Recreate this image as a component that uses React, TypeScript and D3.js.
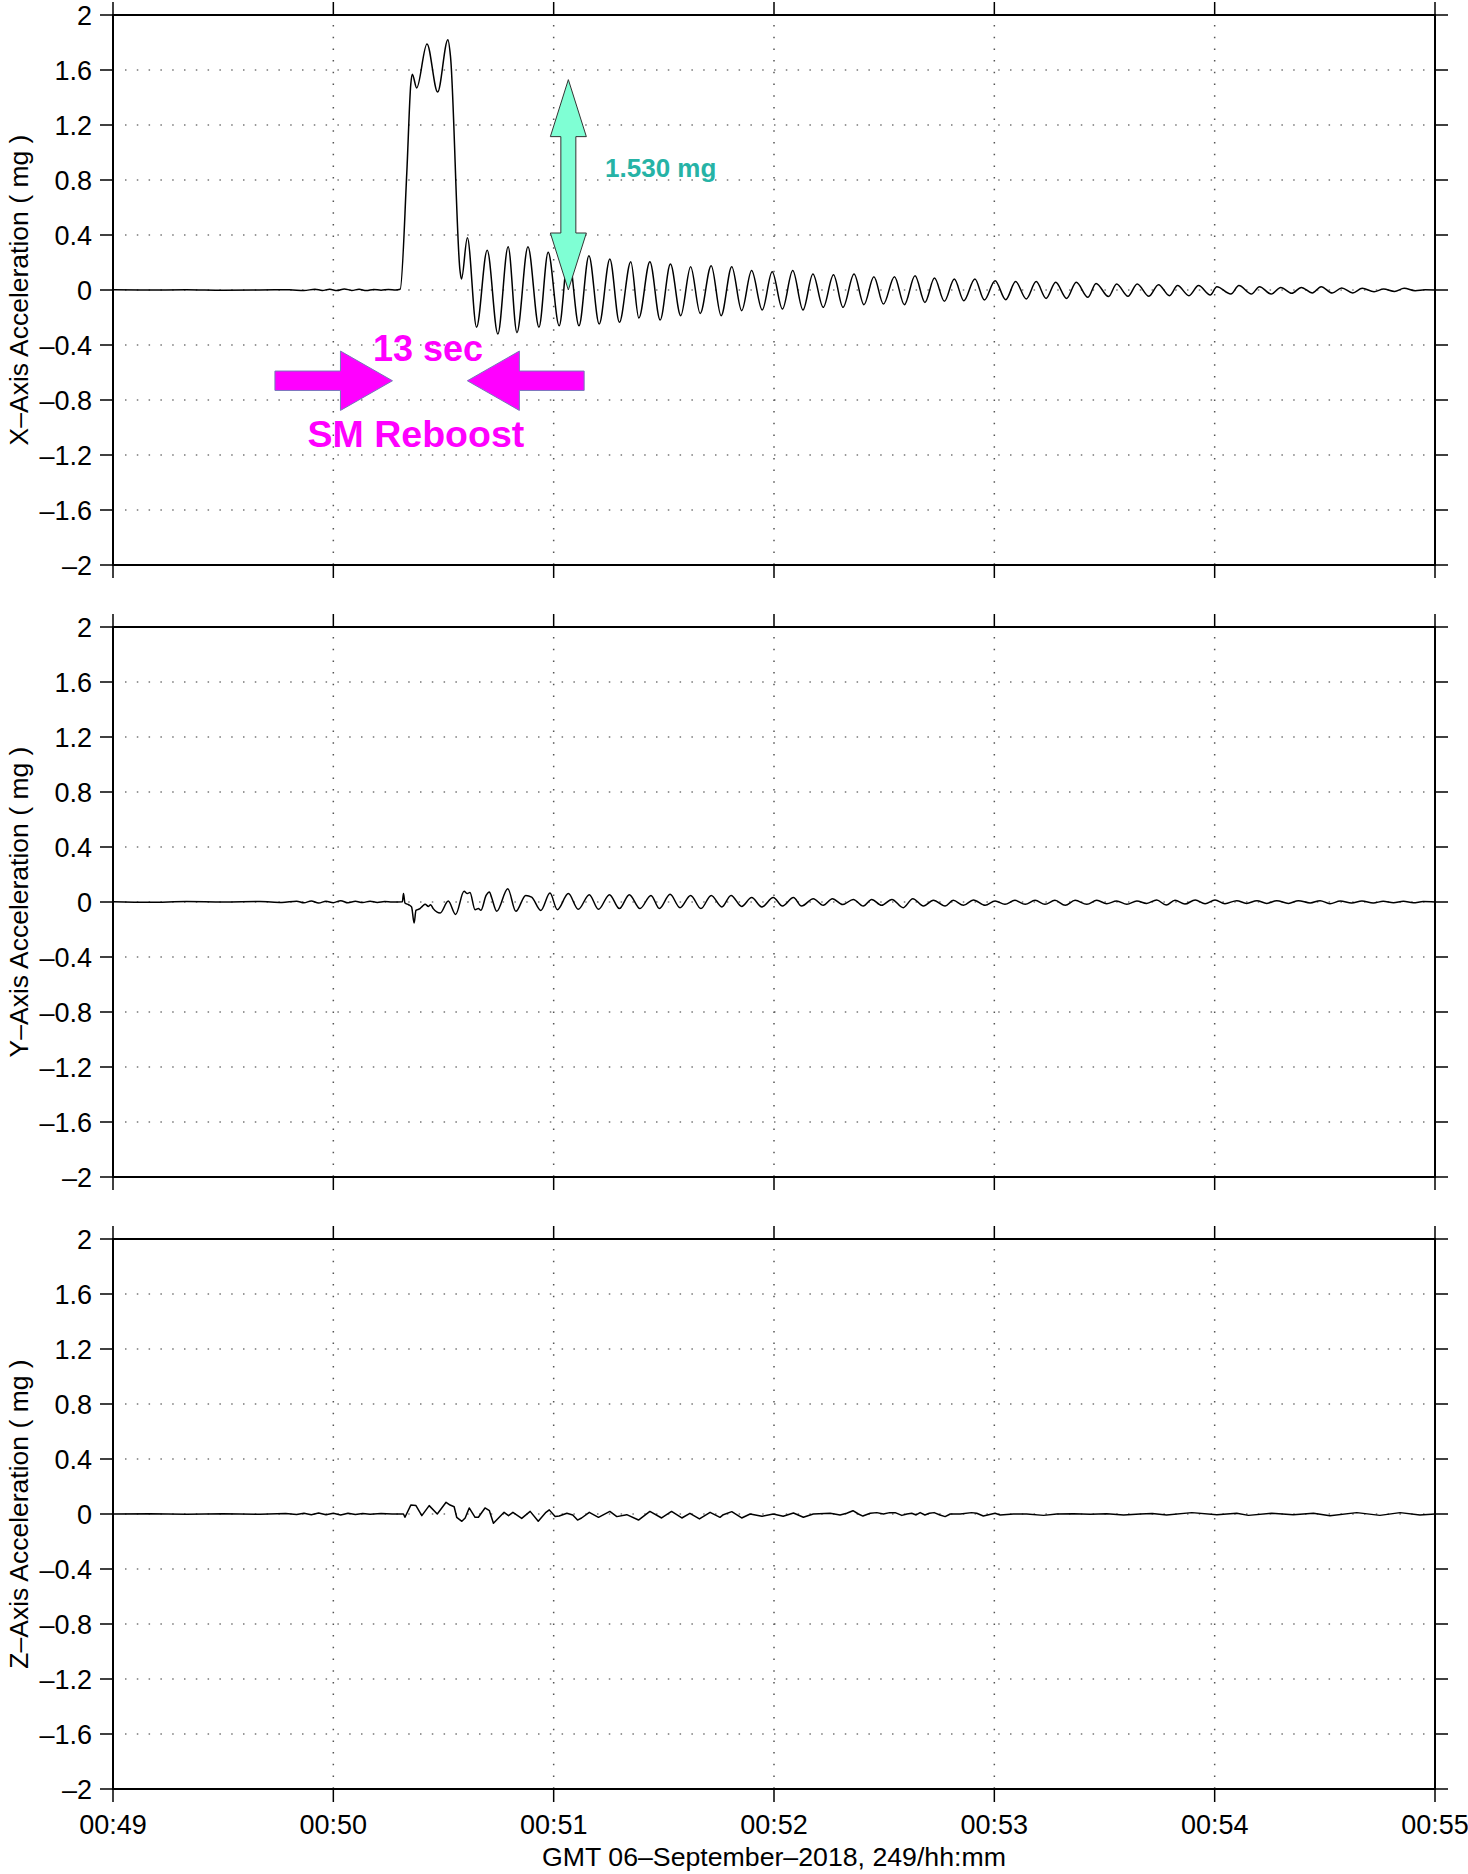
import React from "react";
import * as d3 from "d3";

// ---------- DATA (time in seconds after 00:49:00 GMT, acceleration in mg) ----------
const X_TICK_SECONDS = [0, 60, 120, 180, 240, 300, 360];
const X_TICK_LABELS = ["00:49", "00:50", "00:51", "00:52", "00:53", "00:54", "00:55"];
const Y_TICKS = [-2, -1.6, -1.2, -0.8, -0.4, 0, 0.4, 0.8, 1.2, 1.6, 2];
const AXIS_NAMES = ["X\u2013Axis Acceleration ( mg )", "Y\u2013Axis Acceleration ( mg )", "Z\u2013Axis Acceleration ( mg )"];
const X_TITLE = "GMT 06\u2013September\u20132018, 249/hh:mm";

const X_ACCEL: [number, number][] = [
  [0, 0.002], [10, 0.0], [20, 0.002], [30, -0.002], [40, 0.0], [48, 0.002], [52, -0.004], [55, 0.006],
  [57, -0.003], [59, 0.005], [61, -0.004], [63, 0.008], [65, -0.003], [67, 0.005], [69, -0.004], [71, 0.004],
  [73, -0.002], [75, 0.004], [77, 0.0], [78.2, 0.005], [80.0, 0.85], [81.1, 1.5], [81.5, 1.57], [82.7, 1.47],
  [85.5, 1.79], [88.4, 1.44], [91.2, 1.82], [91.9, 1.7], [94.5, 0.14], [94.9, 0.08], [96.5, 0.38], [99.0, -0.27],
  [101.9, 0.29], [104.8, -0.32], [107.6, 0.315], [110.0, -0.31], [113.0, 0.315], [116.0, -0.27], [118.5, 0.275],
  [121.5, -0.26], [124.0, 0.26], [126.9, -0.26], [129.6, 0.25], [132.4, -0.247], [135.3, 0.225], [137.9, -0.235],
  [141.0, 0.206], [143.2, -0.204], [146.2, 0.206], [149.0, -0.218], [151.8, 0.189], [154.6, -0.187], [157.3, 0.17],
  [159.9, -0.17], [162.9, 0.177], [165.6, -0.187], [168.5, 0.17], [171.2, -0.15], [173.9, 0.141], [176.8, -0.145],
  [179.5, 0.133], [182.3, -0.138], [185.1, 0.141], [187.9, -0.145], [190.6, 0.116], [193.4, -0.126], [196.2, 0.111],
  [198.8, -0.126], [201.8, 0.116], [204.5, -0.107], [207.2, 0.097], [209.8, -0.102], [212.8, 0.097], [215.5, -0.107],
  [218.4, 0.104], [221.1, -0.09], [223.7, 0.087], [226.4, -0.082], [229.1, 0.08], [231.7, -0.078], [234.7, 0.08],
  [237.3, -0.073], [240.2, 0.068], [243.1, -0.07], [245.8, 0.061], [248.7, -0.065], [251.4, 0.061], [254.1, -0.061],
  [256.7, 0.056], [259.7, -0.061], [262.3, 0.056], [265.5, -0.053], [267.7, 0.048], [271.1, -0.048], [273.3, 0.044],
  [276.4, -0.046], [278.9, 0.044], [282.1, -0.046], [284.7, 0.039], [287.7, -0.041], [289.9, 0.032], [293.0, -0.041],
  [295.6, 0.032], [298.8, -0.036], [300.6, 0.024], [304.4, -0.029], [306.6, 0.032], [310.0, -0.029], [312.2, 0.024],
  [315.4, -0.029], [318.0, 0.019], [321.0, -0.024], [323.6, 0.019], [326.6, -0.022], [329.0, 0.024], [332.0, -0.022],
  [334.6, 0.015], [337.6, -0.022], [340.2, 0.012], [343.4, -0.012], [346.0, 0.007], [349.0, -0.01], [351.6, 0.012],
  [354.6, -0.005], [357.3, 0.002], [360, 0.0],
];

const Y_ACCEL: [number, number][] = [
  [0, 0.002], [10, -0.002], [20, 0.003], [30, 0.0], [40, 0.003], [46, -0.004], [50, 0.006], [52, -0.006],
  [54, 0.008], [56, -0.008], [58, 0.006], [60, -0.005], [62, 0.01], [64, -0.006], [66, 0.005], [68, -0.004],
  [70, 0.006], [72, -0.003], [74, 0.003], [76, 0.0], [78.8, 0.002], [79.1, 0.061], [79.5, -0.007], [80.5, -0.02],
  [81.3, -0.036], [82.0, -0.153], [82.5, -0.061], [83.6, -0.048], [84.3, -0.03], [85.0, -0.017], [85.9, -0.032],
  [86.5, -0.02], [87.2, -0.048], [89.1, -0.08], [91.3, 0.007], [93.3, -0.09], [95.6, 0.078], [96.5, 0.061],
  [97.2, 0.07], [98.6, -0.056], [99.5, -0.048], [100.2, -0.06], [101.6, 0.048], [102.5, 0.073], [103.1, 0.032],
  [104.5, -0.068], [107.5, 0.097], [109.7, -0.068], [112.4, 0.048], [114.0, 0.036], [116.5, -0.061], [119.0, 0.065],
  [121.0, -0.056], [124.0, 0.061], [126.7, -0.053], [129.7, 0.053], [132.2, -0.053], [135.2, 0.053], [137.9, -0.048],
  [140.6, 0.053], [143.5, -0.048], [146.5, 0.048], [148.8, -0.048], [151.7, 0.056], [154.4, -0.041], [157.3, 0.048],
  [160.1, -0.048], [162.9, 0.048], [165.8, -0.036], [168.3, 0.048], [171.2, -0.032], [173.9, 0.032], [176.7, -0.036],
  [179.8, 0.032], [182.3, -0.029], [185.3, 0.032], [187.5, -0.029], [190.7, 0.024], [193.4, -0.024], [195.9, 0.024],
  [198.7, -0.019], [201.6, 0.019], [204.3, -0.029], [206.6, 0.019], [209.3, -0.024], [212.1, 0.019], [215.2, -0.041],
  [217.8, 0.024], [220.7, -0.029], [223.4, 0.012], [226.6, -0.029], [228.8, 0.012], [231.6, -0.024], [234.3, 0.015],
  [237.5, -0.024], [240.2, 0.007], [242.9, -0.017], [245.6, 0.012], [248.4, -0.017], [251.1, 0.012], [253.8, -0.017],
  [256.5, 0.012], [259.3, -0.024], [262.0, 0.012], [265.2, -0.017], [267.9, 0.012], [270.6, -0.012], [273.3, 0.007],
  [276.1, -0.017], [278.8, 0.007], [281.5, -0.01], [284.2, 0.015], [286.8, -0.022], [289.2, 0.012], [291.9, -0.015],
  [294.7, 0.015], [297.4, -0.012], [300.1, 0.015], [302.8, -0.012], [306.0, 0.01], [308.7, -0.01], [311.5, 0.01],
  [314.2, -0.01], [316.9, 0.01], [320.1, -0.01], [322.8, 0.01], [326.0, -0.007], [328.7, 0.01], [331.4, -0.012],
  [334.2, 0.007], [337.3, -0.007], [340.1, 0.007], [343.2, -0.007], [345.9, 0.005], [348.7, -0.005], [351.4, 0.005],
  [354.1, -0.005], [356.8, 0.003], [360, 0.0],
];

const Z_ACCEL: [number, number][] = [
  [0, 0.0], [10, 0.002], [20, -0.002], [30, 0.002], [40, -0.002], [47, 0.004], [50, -0.004], [52, 0.006],
  [54, -0.005], [56, 0.008], [58, -0.006], [60, 0.005], [62, -0.008], [64, 0.006], [66, -0.003], [68, 0.003],
  [70, -0.002], [73, 0.003], [76, 0.0], [79.1, 0.0], [79.5, -0.024], [81.1, 0.065], [82.5, 0.061], [84.1, -0.012],
  [86.1, 0.061], [88.3, 0.0], [90.7, 0.085], [91.8, 0.065], [92.9, 0.053], [93.6, -0.024], [95.0, -0.053],
  [95.9, -0.029], [97.0, 0.044], [98.6, -0.024], [99.5, -0.024], [101.3, 0.044], [102.5, 0.024], [103.6, -0.068],
  [106.5, 0.012], [107.7, -0.012], [108.9, 0.012], [111.3, -0.032], [113.6, 0.019], [115.8, -0.053], [117.9, 0.012],
  [118.8, 0.03], [120.4, -0.019], [121.5, -0.015], [123.6, 0.005], [125.2, -0.007], [126.5, -0.044], [127.6, -0.029],
  [129.7, 0.012], [132.2, -0.024], [135.3, 0.019], [137.2, -0.019], [139.9, -0.005], [143.1, -0.044], [146.2, 0.019],
  [149.4, -0.029], [152.1, 0.019], [154.9, -0.029], [157.1, 0.005], [159.7, -0.036], [162.6, 0.012], [165.3, -0.024],
  [166.2, -0.005], [168.5, 0.017], [171.2, -0.029], [173.5, 0.0], [176.7, -0.017], [179.8, 0.0], [182.5, -0.017],
  [185.3, 0.007], [188.0, -0.024], [190.7, 0.0], [195.3, 0.005], [198.0, -0.007], [199.8, 0.005], [201.5, 0.024],
  [203.0, 0.0], [204.2, -0.015], [206.2, 0.005], [208.0, 0.01], [209.8, 0.0], [211.5, 0.01], [213.0, 0.01],
  [214.8, -0.01], [216.2, 0.0], [217.5, 0.005], [218.7, -0.007], [219.8, 0.01], [221.1, -0.007], [222.3, 0.005],
  [223.6, 0.01], [225.2, -0.007], [226.6, -0.019], [228.0, 0.0], [230.7, 0.0], [233.8, 0.01], [235.2, 0.005],
  [237.0, -0.015], [240.2, 0.005], [241.6, -0.007], [245.2, 0.0], [248.8, 0.0], [253.4, -0.01], [257.0, 0.0],
  [261.6, 0.002], [266.1, -0.002], [270.6, 0.002], [275.2, -0.007], [279.7, 0.0], [283.0, 0.003], [286.9, -0.007],
  [293.8, 0.01], [300.6, -0.005], [306.0, 0.005], [309.2, -0.01], [315.5, 0.005], [321.4, -0.005], [326.9, 0.005],
  [331.4, -0.012], [338.7, 0.01], [345.0, -0.01], [350.5, 0.01], [355.9, -0.007], [360, 0.0],
];

// Annotation anchors (data units of the X panel)
const PEAK_LABEL = "1.530 mg";
const PEAK_ARROW = { t: 124.0, from: 0.0, to: 1.53 };
const PEAK_LABEL_AT = { t: 134.0, v: 0.82 };
const BURN_LEFT_ARROW = { tail: 44.1, tip: 76.1, v: -0.66 };
const BURN_RIGHT_ARROW = { tail: 128.3, tip: 96.5, v: -0.66 };
const BURN_DURATION = "13 sec";
const BURN_DURATION_AT = { t: 85.8, v: -0.514 };
const EVENT_NAME = "SM Reboost";
const EVENT_NAME_AT = { t: 82.5, v: -1.145 };

// ---------- LAYOUT ----------
const W = 1468;
const H = 1874;
const LEFT = 113;
const RIGHT = 1435;
const PANEL_TOPS = [15, 627, 1239];
const PANEL_H = 550;
const TICK = 13;
const FONT = "'Liberation Sans', Arial, Helvetica, sans-serif";

const fmt = (v: number) => {
  if (v === 0) return "0";
  const s = Math.abs(v).toString();
  return v < 0 ? "\u2013" + s : s;
};

function Panel({ top, data, name, idx, curve }: any) {
  const x = d3.scaleLinear().domain([0, 360]).range([LEFT, RIGHT]);
  const y = d3.scaleLinear().domain([-2, 2]).range([top + PANEL_H, top]);
  const line = d3
    .line<[number, number]>()
    .x((d) => x(d[0]))
    .y((d) => y(d[1]))
    .curve(curve);
  const clipId = `clip${idx}`;
  const bottom = top + PANEL_H;
  return (
    <g>
      <defs>
        <clipPath id={clipId}>
          <rect x={LEFT} y={top} width={RIGHT - LEFT} height={PANEL_H} />
        </clipPath>
      </defs>
      {/* grid */}
      {Y_TICKS.filter((v) => v !== 2 && v !== -2).map((v) => (
        <line key={"gy" + v} x1={LEFT + 12} x2={RIGHT} y1={y(v)} y2={y(v)} stroke="#777" strokeWidth={1.5} strokeDasharray="1.5 10.3" />
      ))}
      {X_TICK_SECONDS.slice(1, -1).map((t) => (
        <line key={"gx" + t} x1={x(t)} x2={x(t)} y1={top + 10} y2={bottom} stroke="#555" strokeWidth={1.5} strokeDasharray="1.5 10.2" />
      ))}
      {/* data */}
      <path d={line(data) || ""} fill="none" stroke="#000" strokeWidth={1.5} strokeLinejoin="round" clipPath={`url(#${clipId})`} />
      {/* frame */}
      <rect x={LEFT} y={top} width={RIGHT - LEFT} height={PANEL_H} fill="none" stroke="#000" strokeWidth={2} />
      {/* ticks */}
      {Y_TICKS.map((v) => (
        <g key={"ty" + v}>
          <line x1={LEFT - TICK} x2={LEFT} y1={y(v)} y2={y(v)} stroke="#000" strokeWidth={1.5} />
          <line x1={RIGHT} x2={RIGHT + TICK} y1={y(v)} y2={y(v)} stroke="#000" strokeWidth={1.5} />
          <text x={LEFT - 21} y={y(v)} dy="0.36em" textAnchor="end" fontSize={27} fontFamily={FONT}>
            {fmt(v)}
          </text>
        </g>
      ))}
      {X_TICK_SECONDS.map((t) => (
        <g key={"tx" + t}>
          <line x1={x(t)} x2={x(t)} y1={Math.max(0, top - TICK)} y2={top} stroke="#000" strokeWidth={1.5} />
          <line x1={x(t)} x2={x(t)} y1={bottom} y2={bottom + TICK} stroke="#000" strokeWidth={1.5} />
        </g>
      ))}
      <text
        transform={`translate(28,${top + PANEL_H / 2}) rotate(-90)`}
        textAnchor="middle"
        fontSize={26.5}
        fontFamily={FONT}
      >
        {name}
      </text>
    </g>
  );
}

export default function App() {
  const x = d3.scaleLinear().domain([0, 360]).range([LEFT, RIGHT]);
  const y1 = d3.scaleLinear().domain([-2, 2]).range([PANEL_TOPS[0] + PANEL_H, PANEL_TOPS[0]]);
  const lastBottom = PANEL_TOPS[2] + PANEL_H;

  // green double arrow
  const cx = x(PEAK_ARROW.t);
  const yt = y1(PEAK_ARROW.to);
  const yb = y1(PEAK_ARROW.from);
  const hl = 57, hw = 18, sw = 7.5;
  const dbl = [
    [cx, yt], [cx + hw, yt + hl], [cx + sw, yt + hl], [cx + sw, yb - hl], [cx + hw, yb - hl], [cx, yb],
    [cx - hw, yb - hl], [cx - sw, yb - hl], [cx - sw, yt + hl], [cx - hw, yt + hl],
  ];
  const poly = (pts: number[][]) => "M" + pts.map((p) => p.join(",")).join("L") + "Z";

  const hArrow = (a: { tail: number; tip: number; v: number }) => {
    const x0 = x(a.tail), x1 = x(a.tip), cy = y1(a.v);
    const dir = x1 > x0 ? 1 : -1;
    const hlen = 52, hh = 29.7, sh = 9.7;
    const xb = x1 - dir * hlen;
    return poly([
      [x0, cy - sh], [xb, cy - sh], [xb, cy - hh], [x1, cy], [xb, cy + hh], [xb, cy + sh], [x0, cy + sh],
    ]);
  };

  return (
    <svg width={W} height={H} style={{ position: "absolute", left: 0, top: 0, background: "#fff" }}>
      <rect x={0} y={0} width={W} height={H} fill="#fff" />
      <Panel top={PANEL_TOPS[0]} data={X_ACCEL} name={AXIS_NAMES[0]} idx={0} curve={d3.curveMonotoneX} />
      <Panel top={PANEL_TOPS[1]} data={Y_ACCEL} name={AXIS_NAMES[1]} idx={1} curve={d3.curveMonotoneX} />
      <Panel top={PANEL_TOPS[2]} data={Z_ACCEL} name={AXIS_NAMES[2]} idx={2} curve={d3.curveLinear} />

      {X_TICK_SECONDS.map((t, i) => (
        <text key={"xl" + t} x={x(t)} y={lastBottom + 45} textAnchor="middle" fontSize={27} fontFamily={FONT}>
          {X_TICK_LABELS[i]}
        </text>
      ))}
      <text x={(LEFT + RIGHT) / 2} y={H - 8} textAnchor="middle" fontSize={26.7} fontFamily={FONT}>
        {X_TITLE}
      </text>

      {/* annotations */}
      <path d={poly(dbl)} fill="#7FFFD4" stroke="#333" strokeWidth={1} />
      <text x={x(PEAK_LABEL_AT.t)} y={y1(PEAK_LABEL_AT.v)} fontSize={26} fontWeight="bold" fill="#26B3A6" fontFamily={FONT}>
        {PEAK_LABEL}
      </text>
      <path d={hArrow(BURN_LEFT_ARROW)} fill="#FF00FF" stroke="#7777bb" strokeWidth={1} />
      <path d={hArrow(BURN_RIGHT_ARROW)} fill="#FF00FF" stroke="#7777bb" strokeWidth={1} />
      <text x={x(BURN_DURATION_AT.t)} y={y1(BURN_DURATION_AT.v)} textAnchor="middle" fontSize={36} fontWeight="bold" fill="#FF00FF" fontFamily={FONT}>
        {BURN_DURATION}
      </text>
      <text x={x(EVENT_NAME_AT.t)} y={y1(EVENT_NAME_AT.v)} textAnchor="middle" fontSize={37.5} fontWeight="bold" fill="#FF00FF" fontFamily={FONT}>
        {EVENT_NAME}
      </text>
    </svg>
  );
}
